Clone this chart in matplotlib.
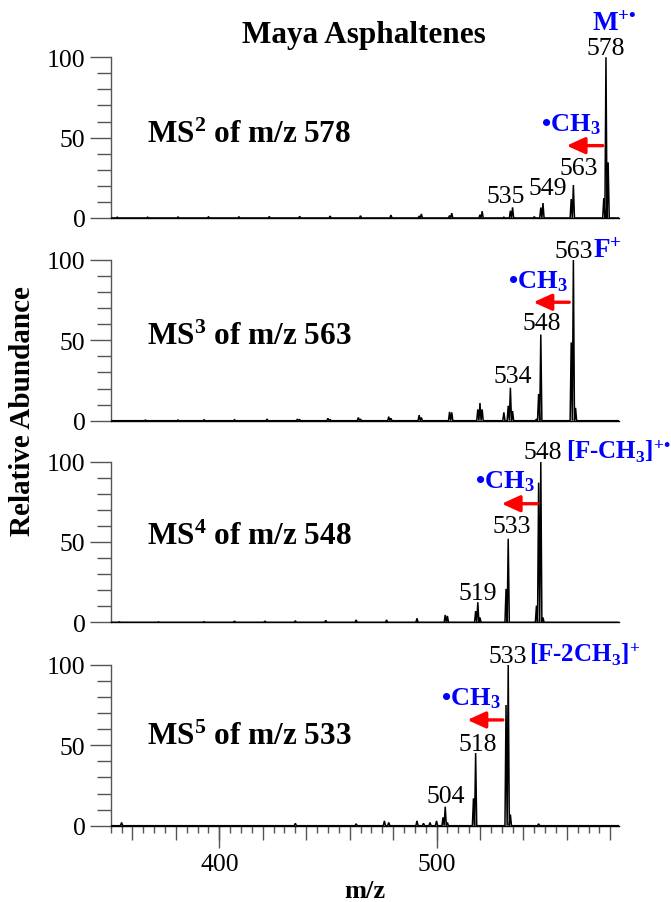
import matplotlib
matplotlib.use("Agg")
import matplotlib.pyplot as plt
from matplotlib.ticker import MultipleLocator, FixedLocator

plt.rcParams["font.family"] = ["Liberation Serif", "DejaVu Serif"]
plt.rcParams["mathtext.fontset"] = "custom"
plt.rcParams["mathtext.rm"] = "Liberation Serif"
plt.rcParams["mathtext.bf"] = "Liberation Serif:bold"
plt.rcParams["mathtext.default"] = "regular"

# ---- spectra: peak m/z and relative abundance ----
ms2_mz = [353, 367, 381, 395, 409, 423, 437, 451, 465, 479, 492, 493, 506, 507,
          520, 521, 531, 534, 535, 545, 548, 549, 562, 563, 577, 578, 579]
ms2_int = [0.5, 0.5, 0.6, 0.7, 0.8, 0.9, 1.0, 1.2, 1.4, 1.8, 1.2, 2.5, 1.5, 3.0,
           2.0, 4.2, 0.5, 4.5, 6.6, 0.8, 6.5, 9.3, 11.8, 20.5, 12.4, 100, 34.6]

ms3_mz = [366, 381, 393, 407, 422, 436, 437, 450, 451, 464, 465, 478, 479, 492,
          493, 506, 507, 519, 520, 521, 531, 533, 534, 535, 546, 547, 548, 562,
          563, 564]
ms3_int = [0.4, 0.4, 0.6, 0.6, 1.0, 1.0, 0.6, 1.5, 0.8, 2.0, 1.0, 2.5, 1.5, 3.5,
           2.0, 5.5, 5.2, 7.0, 11.0, 7.0, 5.2, 9.3, 20.5, 6.0, 1.0, 16.6, 53.6,
           48.7, 100, 8.0]

ms4_mz = [354, 372, 393, 407, 421, 435, 449, 463, 477, 491, 504, 505, 518, 519,
          520, 532, 533, 546, 547, 548, 549]
ms4_int = [0.3, 0.3, 0.4, 0.8, 0.8, 1.0, 1.2, 1.5, 1.5, 2.5, 4.6, 4.0, 7.0, 12.5,
           3.0, 20.8, 52.0, 10.4, 86.9, 100, 3.0]

ms5_mz = [355, 435, 463, 476, 478, 491, 494, 497, 500, 503, 504, 505, 517, 518,
          532, 533, 534, 547]
ms5_int = [2.0, 1.5, 1.2, 3.0, 2.0, 3.0, 1.5, 2.0, 3.0, 5.2, 11.8, 2.0, 17.0,
           45.2, 75.1, 100, 7.0, 1.2]

stages = ["2", "3", "4", "5"]
precursors = [578, 563, 548, 533]
ion_names = [r"M$^{+•}$", r"F$^{+}$", r"[F-CH$_3$]$^{+•}$", r"[F-2CH$_3$]$^{+}$"]
labelled_peaks = [[578, 563, 549, 535], [563, 548, 534], [548, 533, 519], [533, 518, 504]]
neutral_loss = "•CH$_3$"

spectra = [(ms2_mz, ms2_int), (ms3_mz, ms3_int), (ms4_mz, ms4_int), (ms5_mz, ms5_int)]

# ---- layout of annotations (m/z offset and height of each peak label) ----
label_place = [
    [(0.0, 102), (2.3, 27.4), (2.0, 15.0), (-3.0, 10.1)],
    [(0.0, 101.7), (0.6, 57.0), (1.0, 24.3)],
    [(0.7, 102), (1.8, 56.0), (0.2, 14.5)],
    [(0.0, 102), (1.0, 47.1), (0.3, 15.0)],
]
ion_place = [(571.8, 117), (572.2, 101.7), (559.4, 102), (542.5, 102)]
ion_size = [19.5, 19.5, 18, 18]
loss_place = [(548.2, 54.3), (532.9, 83.0), (517.5, 84.0), (502.2, 75.7)]
arrow_place = [(576.5, 559.9, 45.0), (561.1, 544.6, 73.7), (546.4, 530.0, 73.8),
               (530.5, 514.2, 65.8)]
title_y = [47.1, 47.7, 48.7, 50.8]

XMIN, XMAX = 350, 584
AX_GREY = "#555555"
BLUE = "#0000ff"


def trace(mz, inten, hw=0.5):
    xs, ys = [XMIN + 0.3], [0.0]
    for m, h in sorted(zip(mz, inten)):
        xs += [m - hw, m, m + hw]
        ys += [0.0, h, 0.0]
    xs.append(XMAX)
    ys.append(0.0)
    return xs, ys


fig = plt.figure(figsize=(6.71, 9.03), dpi=100)
left, width, height = 0.165, 0.7575, 0.178
bottoms = [0.7575, 0.533, 0.3097, 0.0845]

for i, (mz, inten) in enumerate(spectra):
    ax = fig.add_axes([left, bottoms[i], width, height])
    xs, ys = trace(mz, inten)
    ax.plot(xs, ys, color="black", lw=1.1, solid_joinstyle="miter", zorder=3)
    ax.set_xlim(XMIN, XMAX)
    ax.set_ylim(0, 100)
    for s in ("top", "right"):
        ax.spines[s].set_visible(False)
    ax.spines["left"].set_color(AX_GREY)
    ax.spines["left"].set_linewidth(1.0)
    ax.spines["bottom"].set_color("black")
    ax.spines["bottom"].set_linewidth(1.0)

    ax.set_yticks([0, 50, 100])
    ax.yaxis.set_minor_locator(MultipleLocator(10))
    ax.tick_params(axis="y", which="major", length=14.9, width=1.0, color=AX_GREY,
                   labelsize=18.5, pad=3.2)
    ax.tick_params(axis="y", which="minor", length=10.0, width=1.0, color=AX_GREY)

    if i < 3:
        ax.tick_params(axis="x", which="both", bottom=False, labelbottom=False)
    else:
        ax.xaxis.set_major_locator(MultipleLocator(20))
        ax.xaxis.set_minor_locator(MultipleLocator(5))
        ax.tick_params(axis="x", which="major", length=10.3, width=1.0, color=AX_GREY,
                       labelbottom=False)
        ax.tick_params(axis="x", which="minor", length=4.8, width=1.0, color=AX_GREY)
        sec = ax.secondary_xaxis("bottom")
        sec.xaxis.set_major_locator(FixedLocator([400, 500]))
        sec.tick_params(axis="x", length=15.6, width=1.0, color=AX_GREY,
                        labelsize=18.5, pad=4.0)
        sec.spines["bottom"].set_visible(False)

    # peak labels
    for pk, (dx, yy) in zip(labelled_peaks[i], label_place[i]):
        ax.text(pk + dx, yy, str(pk), ha="center", va="baseline", fontsize=18.5,
                clip_on=False, zorder=4)

    # ion identity
    ix, iy = ion_place[i]
    ax.text(ix, iy, ion_names[i], ha="left", va="baseline", fontsize=ion_size[i],
            fontweight="bold", color=BLUE, clip_on=False)

    # methyl radical loss
    lx, ly = loss_place[i]
    ax.text(lx, ly, neutral_loss, ha="left", va="baseline", fontsize=19,
            fontweight="bold", color=BLUE, clip_on=False)
    x0, x1, ay = arrow_place[i]
    ax.annotate("", xy=(x1, ay), xytext=(x0, ay),
                arrowprops=dict(arrowstyle="-|>,head_length=0.55,head_width=0.25",
                                color="#ff0000", lw=2.4, mutation_scale=20,
                                shrinkA=0, shrinkB=0))

    ax.text(0.0716, title_y[i] / 100, f"MS$^{{{stages[i]}}}$ of m/z {precursors[i]}",
            transform=ax.transAxes, ha="left", va="baseline", fontsize=22.5,
            fontweight="bold")

fig.text(364 / 671, 1 - 43 / 903, "Maya Asphaltenes", ha="center", va="baseline",
         fontsize=22.5, fontweight="bold")
fig.text(22.5 / 671, 1 - 411 / 903, "Relative Abundance", rotation=90, ha="center",
         va="center", fontsize=21, fontweight="bold")
fig.text(365 / 671, 1 - 898 / 903, "m/z", ha="center", va="baseline", fontsize=19,
         fontweight="bold")

fig.savefig("out.png", dpi=100)
